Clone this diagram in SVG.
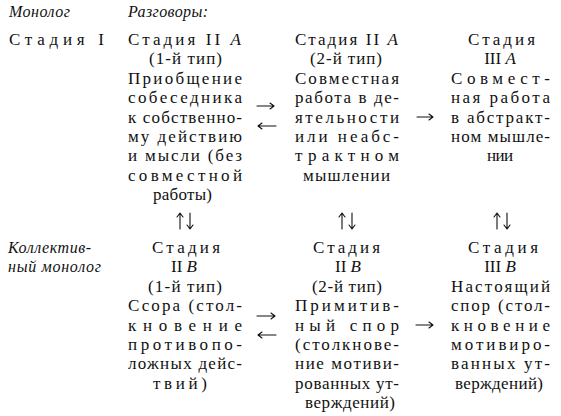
<svg xmlns="http://www.w3.org/2000/svg" width="561" height="416" viewBox="0 0 561 416">
<style>
svg text, svg tspan, text { font-family: 'Liberation Serif', 'Times New Roman', serif !important; }
text { font-size: 17px; fill: #111; }
.it { font-style: italic; font-size: 16px; }
.i { font-style: italic; }
.c { text-anchor: middle; }
.arr { fill: none; stroke: #111; stroke-width: 1.1; stroke-linecap: round; stroke-linejoin: round; }
</style>
<rect width="561" height="416" fill="#fff"/>
<g id="hdr-monolog"><text font-family="Liberation Serif" class="it" x="9" y="17" textLength="61" lengthAdjust="spacing">Монолог</text></g>
<g id="hdr-talks"><text font-family="Liberation Serif" class="it" x="128" y="17" textLength="80" lengthAdjust="spacing">Разговоры:</text></g>
<g id="stage-1"><text font-family="Liberation Serif" x="9" y="45" textLength="95" lengthAdjust="spacing">Стадия I</text></g>
<g id="stage-2a-1">
<text font-family="Liberation Serif" x="128" y="45" textLength="113" lengthAdjust="spacing">Стадия II <tspan class="i">A</tspan></text>
<text font-family="Liberation Serif" x="149" y="64.4" textLength="73" lengthAdjust="spacing">(1-й тип)</text>
<text font-family="Liberation Serif" x="128" y="83.8" textLength="114" lengthAdjust="spacing">Приобщение</text>
<text font-family="Liberation Serif" x="128" y="103.2" textLength="114" lengthAdjust="spacing">собеседника</text>
<text font-family="Liberation Serif" x="128" y="122.6" textLength="114" lengthAdjust="spacing">к собственно-</text>
<text font-family="Liberation Serif" x="128" y="142" textLength="114" lengthAdjust="spacing">му действию</text>
<text font-family="Liberation Serif" x="128" y="161.4" textLength="114" lengthAdjust="spacing">и мысли (без</text>
<text font-family="Liberation Serif" x="128" y="180.8" textLength="114" lengthAdjust="spacing">совместной</text>
<text font-family="Liberation Serif" x="153" y="200.2" textLength="59" lengthAdjust="spacing">работы)</text>
</g>
<g id="stage-2a-2">
<text font-family="Liberation Serif" x="295" y="45" textLength="103" lengthAdjust="spacing">Стадия II <tspan class="i">A</tspan></text>
<text font-family="Liberation Serif" x="310" y="64.4" textLength="72" lengthAdjust="spacing">(2-й тип)</text>
<text font-family="Liberation Serif" x="295" y="83.8" textLength="104" lengthAdjust="spacing">Совместная</text>
<text font-family="Liberation Serif" x="295" y="103.2" textLength="104" lengthAdjust="spacing">работа в де-</text>
<text font-family="Liberation Serif" x="295" y="122.6" textLength="104" lengthAdjust="spacing">ятельности</text>
<text font-family="Liberation Serif" x="295" y="142" textLength="104" lengthAdjust="spacing">или неабс-</text>
<text font-family="Liberation Serif" x="295" y="161.4" textLength="104" lengthAdjust="spacing">трактном</text>
<text font-family="Liberation Serif" x="303" y="180.8" textLength="87" lengthAdjust="spacing">мышлении</text>
</g>
<g id="stage-3a">
<text font-family="Liberation Serif" x="468" y="45" textLength="67" lengthAdjust="spacing">Стадия</text>
<text font-family="Liberation Serif" class="c" x="500" y="64.4">III <tspan class="i">A</tspan></text>
<text font-family="Liberation Serif" x="451" y="83.8" textLength="99" lengthAdjust="spacing">Совмест-</text>
<text font-family="Liberation Serif" x="451" y="103.2" textLength="99" lengthAdjust="spacing">ная работа</text>
<text font-family="Liberation Serif" x="451" y="122.6" textLength="99" lengthAdjust="spacing">в абстракт-</text>
<text font-family="Liberation Serif" x="451" y="142" textLength="99" lengthAdjust="spacing">ном мышле-</text>
<text font-family="Liberation Serif" x="487" y="161.4" textLength="26" lengthAdjust="spacing">нии</text>
</g>
<g id="hdr-collective">
<text font-family="Liberation Serif" class="it" x="8" y="253" textLength="83" lengthAdjust="spacing">Коллектив-</text>
<text font-family="Liberation Serif" class="it" x="8" y="272.4" textLength="93" lengthAdjust="spacing">ный монолог</text>
</g>
<g id="stage-2b-1">
<text font-family="Liberation Serif" x="152" y="253" textLength="68" lengthAdjust="spacing">Стадия</text>
<text font-family="Liberation Serif" class="c" x="184" y="272.4">II <tspan class="i">B</tspan></text>
<text font-family="Liberation Serif" x="148" y="291.8" textLength="74" lengthAdjust="spacing">(1-й тип)</text>
<text font-family="Liberation Serif" x="128" y="311.2" textLength="114" lengthAdjust="spacing">Ссора (стол-</text>
<text font-family="Liberation Serif" x="128" y="330.6" textLength="114" lengthAdjust="spacing">кновение</text>
<text font-family="Liberation Serif" x="128" y="350" textLength="114" lengthAdjust="spacing">противопо-</text>
<text font-family="Liberation Serif" x="128" y="369.4" textLength="114" lengthAdjust="spacing">ложных дейс-</text>
<text font-family="Liberation Serif" x="153" y="388.8" textLength="54" lengthAdjust="spacing">твий)</text>
</g>
<g id="stage-2b-2">
<text font-family="Liberation Serif" x="313" y="253" textLength="67" lengthAdjust="spacing">Стадия</text>
<text font-family="Liberation Serif" class="c" x="348" y="272.4">II <tspan class="i">B</tspan></text>
<text font-family="Liberation Serif" x="312" y="291.8" textLength="70" lengthAdjust="spacing">(2-й тип)</text>
<text font-family="Liberation Serif" x="295" y="311.2" textLength="104" lengthAdjust="spacing">Примитив-</text>
<text font-family="Liberation Serif" x="295" y="330.6" textLength="104" lengthAdjust="spacing">ный спор</text>
<text font-family="Liberation Serif" x="295" y="350" textLength="104" lengthAdjust="spacing">(столкнове-</text>
<text font-family="Liberation Serif" x="295" y="369.4" textLength="104" lengthAdjust="spacing">ние мотиви-</text>
<text font-family="Liberation Serif" x="295" y="388.8" textLength="104" lengthAdjust="spacing">рованных ут-</text>
<text font-family="Liberation Serif" x="305" y="408.2" textLength="90" lengthAdjust="spacing">верждений)</text>
</g>
<g id="stage-3b">
<text font-family="Liberation Serif" x="468" y="253" textLength="70" lengthAdjust="spacing">Стадия</text>
<text font-family="Liberation Serif" class="c" x="500" y="272.4">III <tspan class="i">B</tspan></text>
<text font-family="Liberation Serif" x="451" y="291.8" textLength="99" lengthAdjust="spacing">Настоящий</text>
<text font-family="Liberation Serif" x="451" y="311.2" textLength="99" lengthAdjust="spacing">спор (стол-</text>
<text font-family="Liberation Serif" x="451" y="330.6" textLength="99" lengthAdjust="spacing">кновение</text>
<text font-family="Liberation Serif" x="451" y="350" textLength="99" lengthAdjust="spacing">мотивиро-</text>
<text font-family="Liberation Serif" x="451" y="369.4" textLength="99" lengthAdjust="spacing">ванных ут-</text>
<text font-family="Liberation Serif" x="455" y="388.8" textLength="88" lengthAdjust="spacing">верждений)</text>
</g>
<g id="connectors" class="arr">
<path d="M257,106 H274 M270,103 L274,106 L270,109"/>
<path d="M276,126 H258 M262,123 L258,126 L262,129"/>
<path d="M417,117 H433 M429,114 L433,117 L429,120"/>
<path d="M257,316 H275 M271,313 L275,316 L271,319"/>
<path d="M276,335 H258 M262,332 L258,335 L262,338"/>
<path d="M416,325 H433 M429,322 L433,325 L429,328"/>
<path d="M180,229 V213 M177,217 L180,213 L183,217"/>
<path d="M190,213 V229 M187,225 L190,229 L193,225"/>
<path d="M342,229 V213 M339,217 L342,213 L345,217"/>
<path d="M352,213 V229 M349,225 L352,229 L355,225"/>
<path d="M497,229 V213 M494,217 L497,213 L500,217"/>
<path d="M507,213 V229 M504,225 L507,229 L510,225"/>
</g>
</svg>
